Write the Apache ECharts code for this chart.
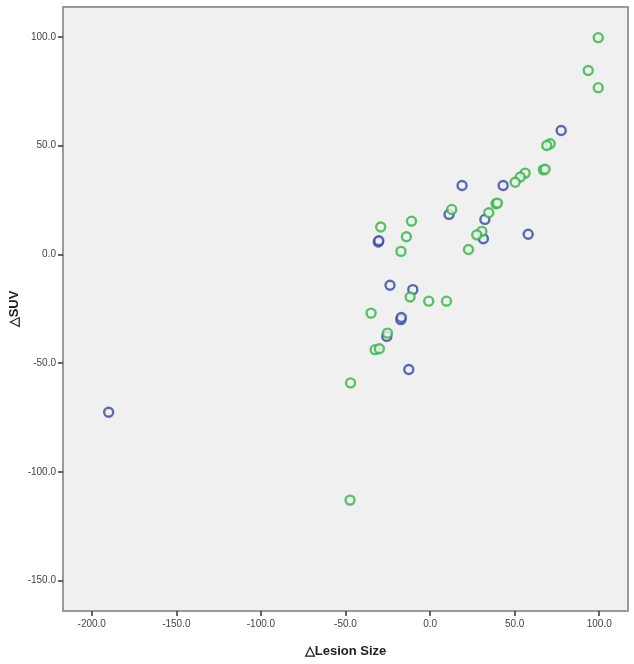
<!DOCTYPE html>
<html><head><meta charset="utf-8">
<script src="https://cdn.jsdelivr.net/npm/echarts@6/dist/echarts.min.js"></script>
<style>html,body{margin:0;padding:0;background:#fff}#c{width:634px;height:664px}</style>
</head><body><div id="c"></div>
<script>
const xTicks = [-200, -150, -100, -50, 0, 50, 100];
const yTicks = [-150, -100, -50, 0, 50, 100];
const blueX = [-190, 77.5, 18.9, 43.2, 11.2, 32.4, 31.5, 58, -30.6, -30.3, -23.7, -10.2, -17.3, -17, -25.6, -12.6];
const blueY = [-72.6, 57, 31.7, 31.7, 18.4, 16.1, 7.2, 9.3, 5.7, 6.3, -14.2, -16.2, -30, -29, -37.7, -52.9];
const greenX = [99.4, 93.5, 99.4, 71, 69, 67, 68, 56.2, 53.3, 50.3, 39, 39.8, 34.7, 30.6, 27.6, 22.7, 12.8, -29.2, -11, -14, -17.2, -47, -34.9, -11.8, -0.8, 9.7, -25.2, -32.5, -30, -47.3];
const greenY = [99.7, 84.6, 76.7, 50.9, 50.1, 38.9, 39.2, 37.4, 35.6, 33.2, 23.3, 23.6, 19.2, 10.6, 9.0, 2.3, 20.7, 12.6, 15.3, 8.1, 1.4, -59.1, -27, -19.6, -21.5, -21.5, -36.2, -43.8, -43.4, -113];

const zip = (a, b) => a.map((v, i) => [v, b[i]]);
const chart = echarts.init(document.getElementById('c'));
const labelStyle = {color: '#444', fontSize: 10, fontFamily: 'Liberation Sans Narrow, Liberation Sans, Arial', formatter: v => v.toFixed(1)};
chart.setOption({
  animation: false,
  grid: {left: 63, right: 6, top: 7, bottom: 53, show: true, backgroundColor: '#f0f0f0', borderColor: '#999', borderWidth: 2, outerBoundsMode: 'none', containLabel: false},
  xAxis: {
    type: 'value', min: -217, max: 117,
    name: '△Lesion Size', nameLocation: 'middle', nameGap: 34,
    nameTextStyle: {fontWeight: 'bold', fontSize: 13, color: '#222', fontFamily: 'Liberation Sans, Arial'},
    splitLine: {show: false},
    axisLine: {show: true, onZero: false, lineStyle: {color: '#999', width: 2}},
    axisTick: {show: true, length: 5, customValues: xTicks, lineStyle: {color: '#333', width: 1.5}},
    axisLabel: Object.assign({customValues: xTicks, margin: 8}, labelStyle)
  },
  yAxis: {
    type: 'value', min: -164, max: 113.8,
    name: '△SUV', nameLocation: 'middle', nameGap: 42, nameRotate: 90, nameMoveOverlap: false,
    nameTextStyle: {fontWeight: 'bold', fontSize: 13, color: '#222', fontFamily: 'Liberation Sans, Arial'},
    splitLine: {show: false},
    axisLine: {show: true, onZero: false, lineStyle: {color: '#999', width: 2}},
    axisTick: {show: true, length: 5, customValues: yTicks, lineStyle: {color: '#333', width: 1.5}},
    axisLabel: Object.assign({customValues: yTicks, margin: 7}, labelStyle)
  },
  series: [
    {type: 'scatter', data: zip(blueX, blueY), symbol: 'circle', symbolSize: 9,
     itemStyle: {color: '#f0f0f0', borderColor: '#3446a8', borderWidth: 2.4}},
    {type: 'scatter', data: zip(greenX, greenY), symbol: 'circle', symbolSize: 9,
     itemStyle: {color: '#f0f0f0', borderColor: '#2fb546', borderWidth: 2.4}}
  ]
});
</script></body></html>
